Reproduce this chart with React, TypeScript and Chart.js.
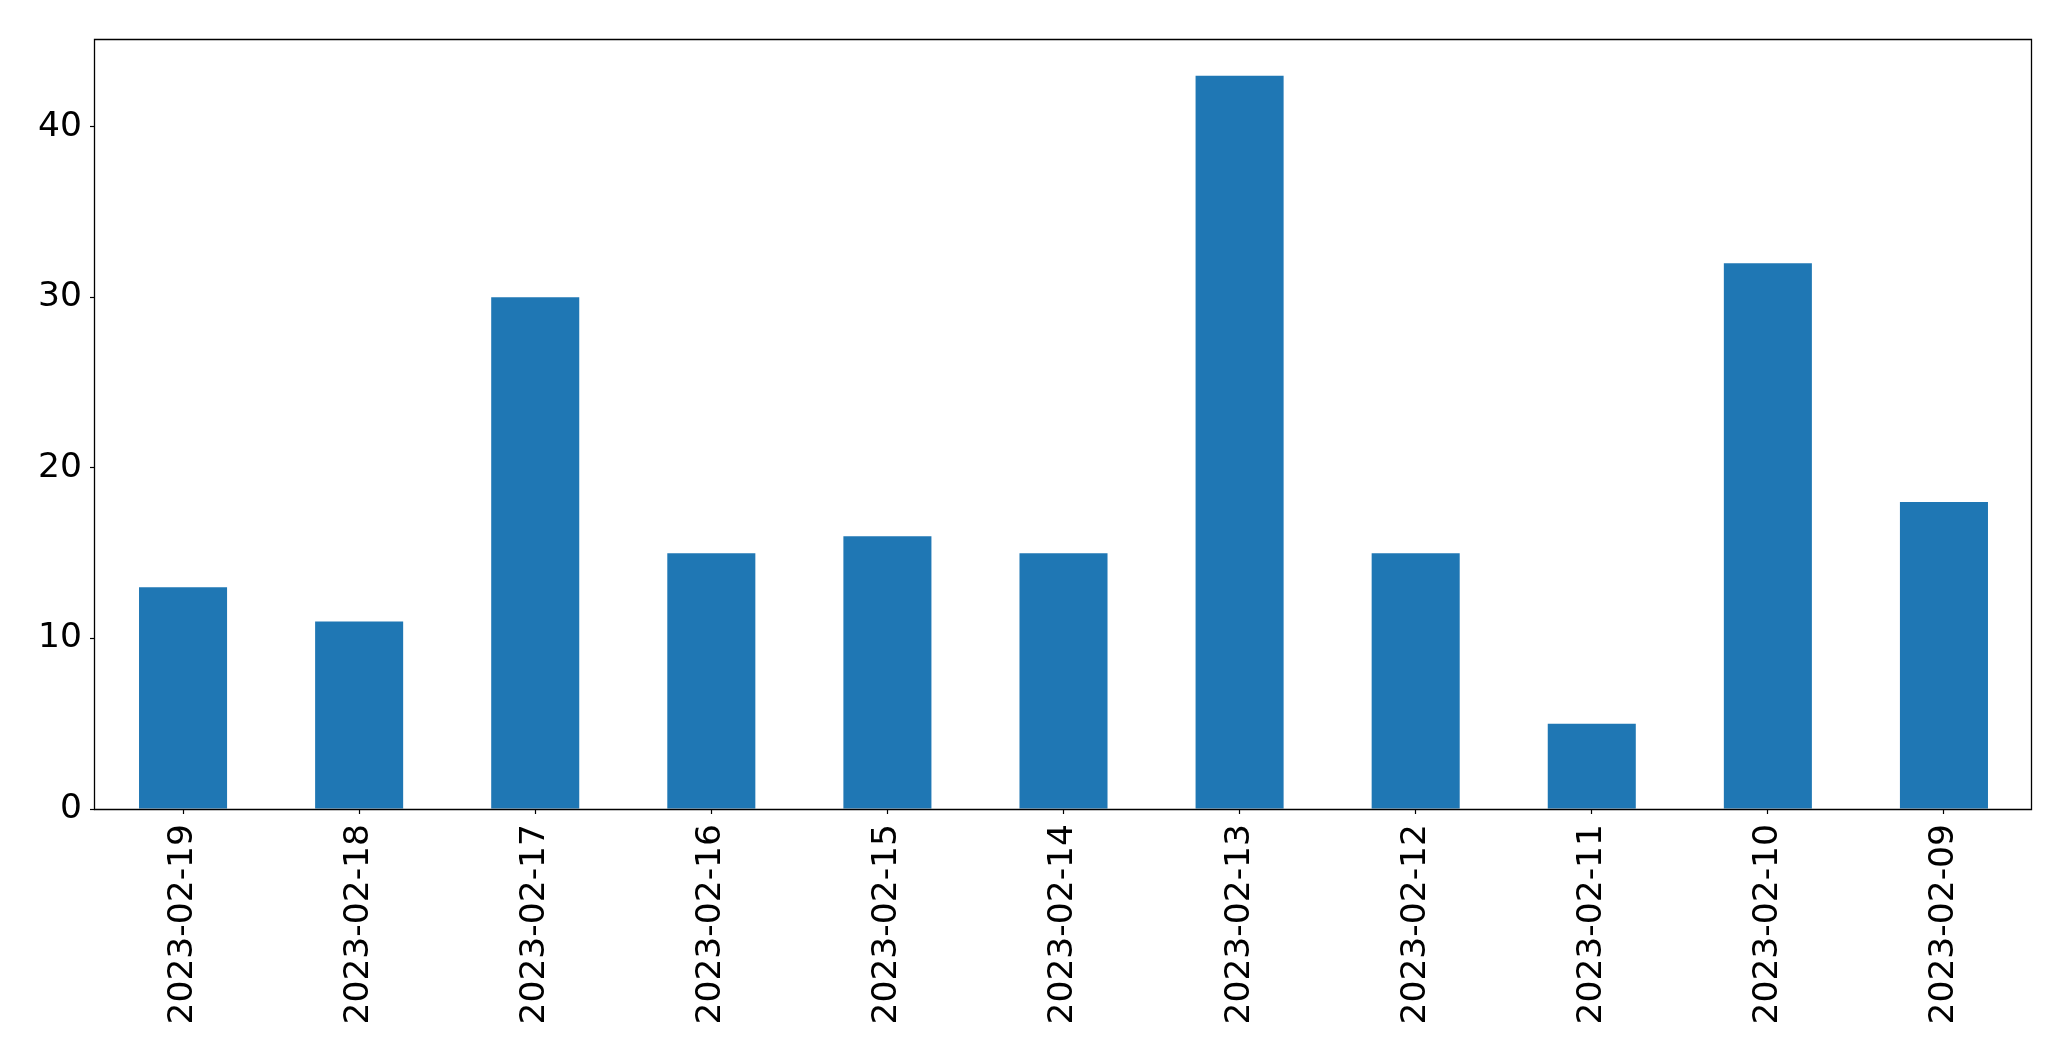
import React, { useEffect, useRef } from "react";
import { Chart, registerables } from "chart.js";

Chart.register(...registerables);

const categories = [
  "2023-02-19",
  "2023-02-18",
  "2023-02-17",
  "2023-02-16",
  "2023-02-15",
  "2023-02-14",
  "2023-02-13",
  "2023-02-12",
  "2023-02-11",
  "2023-02-10",
  "2023-02-09",
];
const counts = [13, 11, 30, 15, 16, 15, 43, 15, 5, 32, 18];
const yTicks = [0, 10, 20, 30, 40];
const yMax = 45.15;

const FONT = "'DejaVu Sans', sans-serif";

const boxPlugin = {
  id: "boxPlugin",
  afterDraw(chart: any) {
    const { ctx, chartArea } = chart;
    const l = Math.round(chartArea.left) - 0.5;
    const t = Math.round(chartArea.top) + 0.5;
    const r = Math.round(chartArea.right) - 0.5;
    const b = Math.round(chartArea.bottom) + 0.5;
    ctx.save();
    ctx.strokeStyle = "#000";
    ctx.lineWidth = 1.3;
    ctx.beginPath();
    ctx.moveTo(l, t);
    ctx.lineTo(r, t);
    ctx.lineTo(r, b);
    ctx.lineTo(l, b);
    ctx.closePath();
    ctx.stroke();
    ctx.restore();
  },
};

export default function App() {
  const ref = useRef<HTMLCanvasElement | null>(null);
  useEffect(() => {
    document.body.style.margin = "0";
    const canvas = ref.current!;
    const chart = new Chart(canvas, {
      type: "bar",
      data: {
        labels: categories,
        datasets: [
          {
            data: counts,
            backgroundColor: "#1f77b4",
            borderWidth: 0,
            barPercentage: 0.5,
            categoryPercentage: 1,
          },
        ],
      },
      plugins: [boxPlugin],
      options: {
        animation: false,
        responsive: false,
        maintainAspectRatio: false,
        events: [],
        layout: { padding: { left: 0, top: 39, right: 39, bottom: 0 } },
        plugins: { legend: { display: false }, tooltip: { enabled: false } },
        scales: {
          x: {
            type: "category",
            offset: true,
            grid: {
              display: true,
              offset: false,
              drawOnChartArea: false,
              drawTicks: true,
              tickLength: 5,
              tickWidth: 1.2,
              tickColor: "#000",
            },
            border: { display: false },
            ticks: {
              color: "#000",
              font: { family: FONT, size: 34.5 },
              minRotation: 90,
              maxRotation: 90,
              autoSkip: false,
              padding: 10,
            },
            afterFit(scale: any) {
              scale.height = 252;
            },
          },
          y: {
            type: "linear",
            min: 0,
            max: yMax,
            grid: {
              display: true,
              drawOnChartArea: false,
              drawTicks: true,
              tickLength: 5,
              tickWidth: 1.2,
              tickColor: "#000",
            },
            border: { display: false },
            afterBuildTicks(scale: any) {
              scale.ticks = yTicks.map((v) => ({ value: v }));
            },
            ticks: {
              color: "#000",
              font: { family: FONT, size: 34.5 },
              padding: 8,
            },
            afterFit(scale: any) {
              scale.width = 95;
            },
          },
        },
      },
    });
    return () => chart.destroy();
  }, []);
  return <canvas ref={ref} width={2071} height={1061} style={{ display: "block", width: 2071, height: 1061 }} />;
}
